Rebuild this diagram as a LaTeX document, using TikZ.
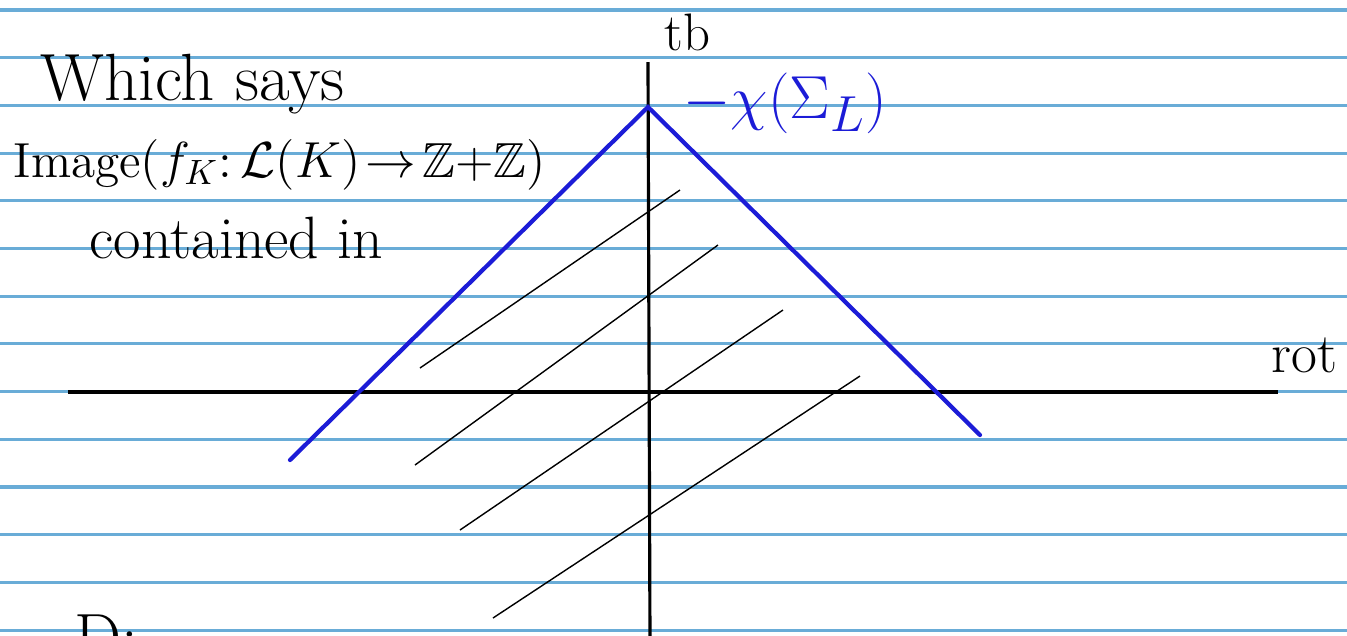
\documentclass[tikz,border=0pt]{standalone}
\usepackage{amssymb}
\usetikzlibrary{positioning}
\definecolor{ruleblue}{RGB}{105,172,215}
\definecolor{penblue}{RGB}{28,28,215}

\begin{document}
\begin{tikzpicture}[x=0.01cm, y=-0.01cm,
	rule/.style={ruleblue, line width=0.9pt},
	axis/.style={black, line width=0.9pt},
	cone/.style={penblue, line width=1.2pt, line cap=round},
	hatch/.style={black, line width=0.4pt},
	note/.style={inner sep=0pt, anchor=base west}]

	\useasboundingbox (0,0) rectangle (1347,635);
	\clip (0,0) rectangle (1347,635);
	\fill[white] (0,0) rectangle (1347,635);

	% Notebook rules
	\foreach \k in {0,...,13}
		\draw[rule] (0,{10+47.7*\k}) -- (1347,{10+47.7*\k});

	% Text on the left
	\node[note, font=\fontsize{19}{21}\selectfont] (says) at (40,100) {Which says};
	\node[note, font=\fontsize{14}{16}\selectfont] (image) at (13,177)
		{Image$(f_K{:}\,\mathcal{L}(K)\!\to\!\mathbb{Z}{+}\mathbb{Z})$};
	\node[note, font=\fontsize{17}{19}\selectfont] (contained) at (89,258) {contained in};
	\node[note, font=\fontsize{19}{21}\selectfont] (dnote) at (74,660) {D:};

	% Axes
	\coordinate (tbtop) at (648,62);
	\coordinate (tbbot) at (650,640);
	\coordinate (rotleft) at (68,392);
	\coordinate (rotright) at (1278,392);
	\draw[axis] (rotleft) -- (rotright);
	\draw[axis] (tbtop) -- (tbbot);
	\node[note, font=\fontsize{15}{17}\selectfont] (tb) at (664,50) {tb};
	\node[note, font=\fontsize{16}{18}\selectfont] (rot) at (1271,372) {rot};

	% Blue cone
	\coordinate (peak) at (648,107);
	\coordinate (coneleft) at (290,460);
	\coordinate (coneright) at (980,435);
	\draw[cone] (coneleft) -- (peak) -- (coneright);
	\node[penblue, anchor=west, inner sep=0pt, font=\fontsize{19}{21}\selectfont] (chi) at (683,103)
		{$-\chi(\Sigma_L)$};

	% Hatching
	\foreach \i/\sx/\sy/\ex/\ey in {1/420/368/680/190, 2/415/465/718/245,
		3/460/530/783/310, 4/493/618/860/376} {
		\coordinate (h\i s) at (\sx,\sy);
		\coordinate (h\i e) at (\ex,\ey);
		\draw[hatch] (h\i s) -- (h\i e);
	}
\end{tikzpicture}
\end{document}
